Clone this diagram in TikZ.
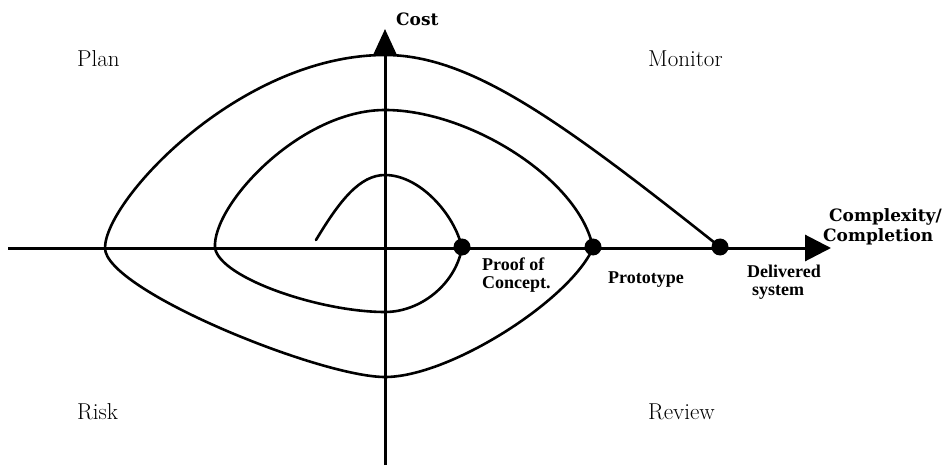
\documentclass[tikz,border=0pt]{standalone}
\usepackage{fontspec}
\usetikzlibrary{arrows.meta}
\newfontfamily\lblfont{Liberation Serif}
\newfontfamily\axfont{DejaVu Serif}
\begin{document}
\begin{tikzpicture}[x=1pt,y=-1pt,
  quad/.style={font=\fontsize{23}{27}\selectfont, anchor=base west, inner sep=0pt},
  axlbl/.style={font=\axfont\bfseries\fontsize{17}{21}\selectfont, inner sep=0pt, anchor=base west},
  ptlbl/.style={font=\lblfont\bfseries\fontsize{18}{19}\selectfont, inner sep=0pt, anchor=base west},
  milestone/.style={circle, fill=black, minimum size=17pt, inner sep=0pt},
  curve/.style={line width=2.6pt, line cap=round},
  axis/.style={line width=3pt}]
\useasboundingbox (0,0) rectangle (944,470);
\fill[white] (0,0) rectangle (944,470);
% axes
\coordinate (xl) at (8,248);
\coordinate (xtip) at (831,248);
\coordinate (yb) at (385,465);
\coordinate (ytip) at (385,29);
\draw[axis, -{Triangle[length=26pt,width=26pt]}] (xl) -- (xtip);
\draw[axis, -{Triangle[length=27pt,width=24pt]}] (yb) -- (ytip);
% spiral
\coordinate (s0) at (316,240);
\coordinate (e0) at (720,247);
\draw[curve] (s0) .. controls (340,200) and (360,175) .. (385,175)
 .. controls (420,175) and (455,215) .. (462,248)
 .. controls (455,285) and (420,312) .. (385,312)
 .. controls (320,312) and (220,278) .. (215,248)
 .. controls (212,205) and (300,110) .. (385,110)
 .. controls (470,110) and (580,180) .. (593,248)
 .. controls (570,300) and (450,377) .. (385,377)
 .. controls (320,377) and (105,290) .. (105,248)
 .. controls (105,200) and (240,55) .. (385,55)
 .. controls (470,55) and (560,120) .. (e0);
% milestones
\node[milestone] (poc) at (462,247) {};
\node[milestone] (proto) at (593,247) {};
\node[milestone] (deliv) at (720,247) {};
% quadrant labels
\node[quad] (plan) at (77,67) {Plan};
\node[quad] (monitor) at (648,67) {Monitor};
\node[quad] (risk) at (77,419) {Risk};
\node[quad] (review) at (648,419) {Review};
% axis labels
\node[axlbl] (cost) at (396,26) {Cost};
\node[axlbl] (cx1) at (829,222) {Complexity/};
\node[axlbl] (cx2) at (823,241) {Completion};
% milestone labels
\node[ptlbl] (l1a) at (482,270) {Proof of};
\node[ptlbl] (l1b) at (482,288) {Concept.};
\node[ptlbl] (l2) at (608,283) {Prototype};
\node[ptlbl] (l3a) at (747,277) {Delivered};
\node[ptlbl] (l3b) at (752,295) {system};
\end{tikzpicture}
\end{document}
